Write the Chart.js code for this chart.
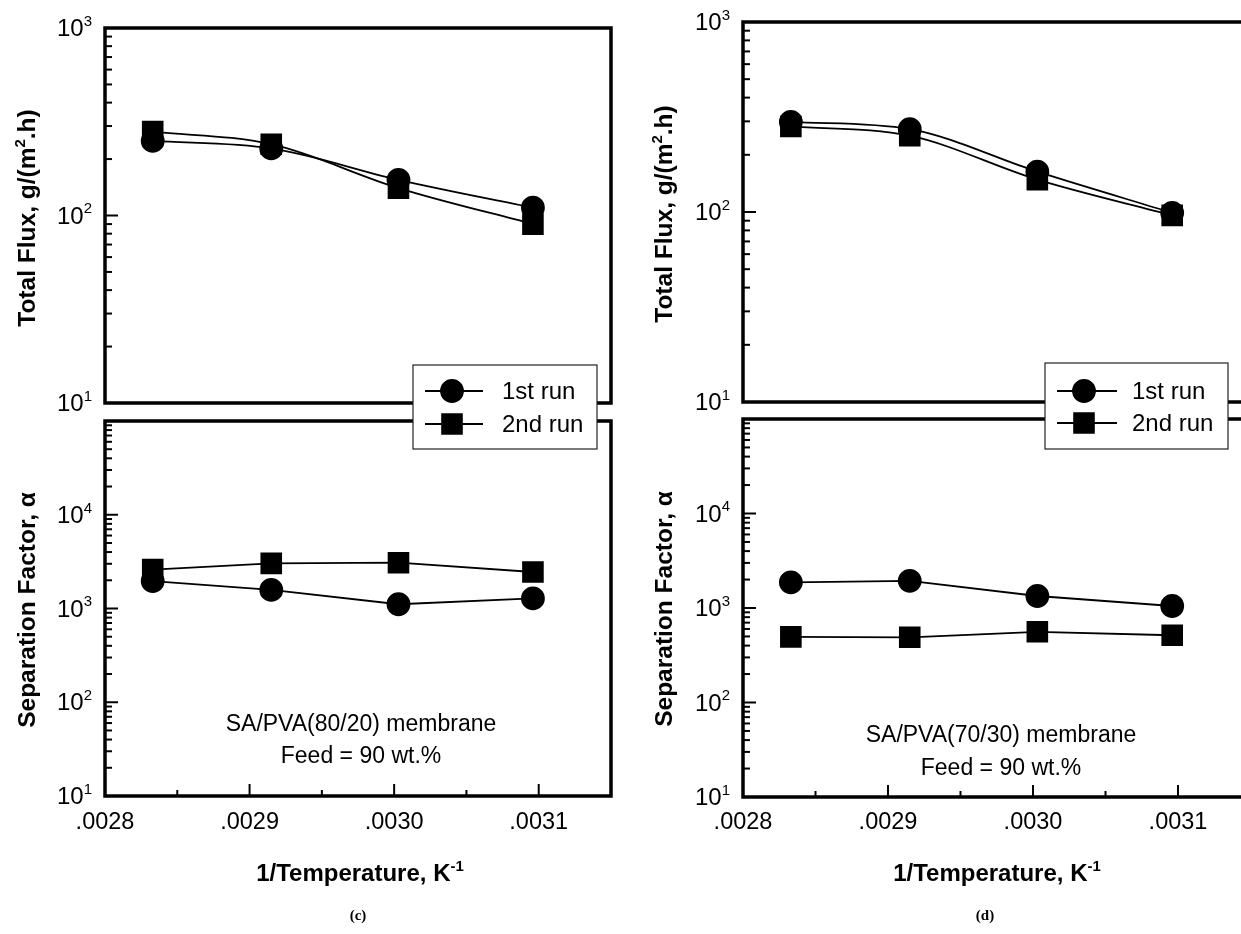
<!DOCTYPE html>
<html>
<head>
<meta charset="utf-8">
<script src="https://cdn.jsdelivr.net/npm/chart.js@4.4.1/dist/chart.umd.min.js"></script>
<style>
  html, body { margin: 0; padding: 0; background: #fff; overflow: hidden; }
  #page { position: relative; width: 1241px; height: 934px; overflow: hidden; background: #fff; }
  canvas { position: absolute; top: 0; }
</style>
</head>
<body>
<div id="page">
  <canvas id="sepC" width="620" height="934" style="left:0"></canvas>
  <canvas id="fluxC" width="620" height="934" style="left:0"></canvas>
  <canvas id="sepD" width="640" height="934" style="left:620px"></canvas>
  <canvas id="fluxD" width="640" height="934" style="left:620px"></canvas>
</div>
<script>
// data
const invTemp = [0.002833, 0.002915, 0.003003, 0.003096];   // 1/T, K^-1
const runNames = ['1st run', '2nd run'];

// (c) SA/PVA(80/20)
const fluxC1 = [250, 228, 155, 110];
const fluxC2 = [280, 240, 140, 90];
const sepC1 = [1960, 1580, 1110, 1280];
const sepC2 = [2600, 3030, 3080, 2450];

// (d) SA/PVA(70/30)
const fluxD1 = [298, 273, 163, 99];
const fluxD2 = [282, 252, 148, 96];
const sepD1 = [1870, 1940, 1340, 1050];
const sepD2 = [495, 490, 560, 515];

// axis ticks
const xTickValues = [0.0028, 0.0029, 0.0030, 0.0031];
const xTickLabels = ['.0028', '.0029', '.0030', '.0031'];
const xMinorTicks = [0.00285, 0.00295, 0.00305];
const fluxTickExps = [1, 2, 3];
const sepTickExps = [1, 2, 3, 4];

const FONT = '"Liberation Sans", Arial, Helvetica, sans-serif';

// text with superscript parts: parts = [[text, isSup], ...], y = baseline
function drawRich(ctx, parts, x, y, size, weight, align) {
  const supSize = Math.round(size * 0.62);
  let total = 0;
  const widths = parts.map(([t, sup]) => {
    ctx.font = `${weight} ${sup ? supSize : size}px ${FONT}`;
    const w = ctx.measureText(t).width;
    total += w;
    return w;
  });
  let cx = x;
  if (align === 'center') cx = x - total / 2;
  if (align === 'right') cx = x - total;
  ctx.textAlign = 'left';
  ctx.textBaseline = 'alphabetic';
  parts.forEach(([t, sup], i) => {
    ctx.font = `${weight} ${sup ? supSize : size}px ${FONT}`;
    ctx.fillText(t, cx, sup ? y - size * 0.42 : y);
    cx += widths[i];
  });
}

function line(ctx, x1, y1, x2, y2) {
  ctx.beginPath();
  ctx.moveTo(x1, y1);
  ctx.lineTo(x2, y2);
  ctx.stroke();
}

// frame, inward ticks, labels, titles
const axesPlugin = {
  id: 'axesPlugin',
  afterDatasetsDraw(chart, args, o) {
    const ctx = chart.ctx, a = chart.chartArea;
    const xs = chart.scales.x, ys = chart.scales.y;
    ctx.save();
    ctx.strokeStyle = '#000';
    ctx.fillStyle = '#000';

    // y ticks (log, inward)
    ctx.lineWidth = 2;
    const lo = Math.round(Math.log10(ys.min)), hi = Math.round(Math.log10(ys.max));
    for (let e = lo; e < hi; e++) {
      for (let m = 1; m < 10; m++) {
        if (m === 1 && e === lo) continue;
        const py = ys.getPixelForValue(m * Math.pow(10, e));
        line(ctx, a.left, py, a.left + (m === 1 ? 13 : 7), py);
      }
    }

    // y tick labels 10^n
    o.yExps.forEach(e => {
      const py = ys.getPixelForValue(Math.pow(10, e));
      drawRich(ctx, [['10', false], [String(e), true]], a.left - 13, py + 8, 24, 'normal', 'right');
    });

    if (o.showX) {
      xTickValues.forEach((v, i) => {
        const px = xs.getPixelForValue(v);
        if (i > 0) line(ctx, px, a.bottom, px, a.bottom - 12);
        drawRich(ctx, [[xTickLabels[i], false]], px, 829, 23.5, 'normal', 'center');
      });
      xMinorTicks.forEach(v => {
        const px = xs.getPixelForValue(v);
        line(ctx, px, a.bottom, px, a.bottom - 6);
      });
      drawRich(ctx, [['1/Temperature, K', false], ['-1', true]], o.xTitleX, 881, 24, 'bold', 'center');
      ctx.font = `bold 15px "Liberation Serif", "Times New Roman", serif`;
      ctx.textAlign = 'center';
      ctx.textBaseline = 'alphabetic';
      ctx.fillText(o.tag, o.tagX, 920);
      o.notes.forEach(n => drawRich(ctx, [[n[0], false]], o.noteX, n[1] + 8, 23, 'normal', 'center'));
    }

    // frame
    ctx.lineWidth = 3.5;
    ctx.strokeRect(a.left, a.top, a.right - a.left, a.bottom - a.top);

    // y title, rotated
    ctx.translate(o.titleX, o.titleY);
    ctx.rotate(-Math.PI / 2);
    drawRich(ctx, o.title, 0, 8, 24.5, 'bold', 'center');
    ctx.restore();
  },
  afterDraw(chart, args, o) {
    if (!o.legend) return;
    const ctx = chart.ctx, L = o.legend;
    ctx.save();
    ctx.fillStyle = '#fff';
    ctx.fillRect(L.left, L.top, L.right - L.left, L.bottom - L.top);
    ctx.strokeStyle = '#222';
    ctx.lineWidth = 1.2;
    ctx.strokeRect(L.left, L.top, L.right - L.left, L.bottom - L.top);
    chart.data.datasets.forEach((ds, i) => {
      const y = L.rows[i];
      ctx.strokeStyle = '#000';
      ctx.lineWidth = 1.8;
      line(ctx, L.lineFrom, y, L.lineTo, y);
      Chart.helpers.drawPoint(ctx, {
        pointStyle: ds.pointStyle, radius: ds.pointRadius, borderWidth: 1
      }, L.marker, y);
      ctx.fillStyle = '#000';
      ctx.fill();
      drawRich(ctx, [[ds.label, false]], L.textX, y + 8, 24, 'normal', 'left');
    });
    ctx.restore();
  }
};

function makeDatasets(run1, run2, smooth) {
  const base = {
    borderColor: '#000', backgroundColor: '#000', pointBackgroundColor: '#000',
    pointBorderColor: '#000', borderWidth: 1.8, fill: false,
    cubicInterpolationMode: smooth ? 'monotone' : 'default', tension: 0
  };
  return [
    Object.assign({}, base, {
      label: runNames[0], pointStyle: 'circle', pointRadius: 11,
      data: invTemp.map((x, i) => ({ x: x, y: run1[i] }))
    }),
    Object.assign({}, base, {
      label: runNames[1], pointStyle: 'rect', pointRadius: 14,
      data: invTemp.map((x, i) => ({ x: x, y: run2[i] }))
    })
  ];
}

function panel(id, cfg) {
  return new Chart(document.getElementById(id), {
    type: 'line',
    data: { datasets: makeDatasets(cfg.run1, cfg.run2, cfg.smooth) },
    options: {
      responsive: false,
      animation: false,
      events: [],
      clip: false,
      layout: { autoPadding: false, padding: cfg.padding },
      scales: {
        x: { type: 'linear', min: 0.0028, max: 0.00315, display: false },
        y: { type: 'logarithmic', min: cfg.yMin, max: cfg.yMax, display: false }
      },
      plugins: {
        legend: { display: false },
        tooltip: { enabled: false },
        axesPlugin: cfg.axes
      }
    },
    plugins: [axesPlugin]
  });
}

const fluxTitle = [['Total Flux, g/(m', false], ['2', true], ['.h)', false]];
const sepTitle = [['Separation Factor, \u03b1', false]];

// (c) column
panel('sepC', {
  run1: sepC1, run2: sepC2, smooth: false, yMin: 10, yMax: 100000,
  padding: { left: 105, top: 421, right: 9, bottom: 138 },
  axes: {
    yExps: sepTickExps, showX: true, title: sepTitle, titleX: 27, titleY: 610,
    tag: '(c)', tagX: 358, xTitleX: 360, noteX: 361,
    notes: [['SA/PVA(80/20) membrane', 723], ['Feed = 90 wt.%', 755]]
  }
});
panel('fluxC', {
  run1: fluxC1, run2: fluxC2, smooth: true, yMin: 10, yMax: 1000,
  padding: { left: 105, top: 28, right: 9, bottom: 531 },
  axes: {
    yExps: fluxTickExps, showX: false, title: fluxTitle, titleX: 27, titleY: 218,
    legend: { left: 413, right: 597, top: 365, bottom: 449, rows: [391, 424],
              lineFrom: 425, lineTo: 483, marker: 452, textX: 502 }
  }
});

// (d) column (canvas starts at x = 620)
panel('sepD', {
  run1: sepD1, run2: sepD2, smooth: false, yMin: 10, yMax: 100000,
  padding: { left: 123, top: 419, right: 9.5, bottom: 137 },
  axes: {
    yExps: sepTickExps, showX: true, title: sepTitle, titleX: 44, titleY: 609,
    tag: '(d)', tagX: 365, xTitleX: 377, noteX: 381,
    notes: [['SA/PVA(70/30) membrane', 734], ['Feed = 90 wt.%', 767]]
  }
});
panel('fluxD', {
  run1: fluxD1, run2: fluxD2, smooth: true, yMin: 10, yMax: 1000,
  padding: { left: 123, top: 22, right: 9.5, bottom: 532 },
  axes: {
    yExps: fluxTickExps, showX: false, title: fluxTitle, titleX: 44, titleY: 214,
    legend: { left: 425, right: 608, top: 363, bottom: 449, rows: [391, 423],
              lineFrom: 437, lineTo: 497, marker: 464, textX: 512 }
  }
});
</script>
</body>
</html>
